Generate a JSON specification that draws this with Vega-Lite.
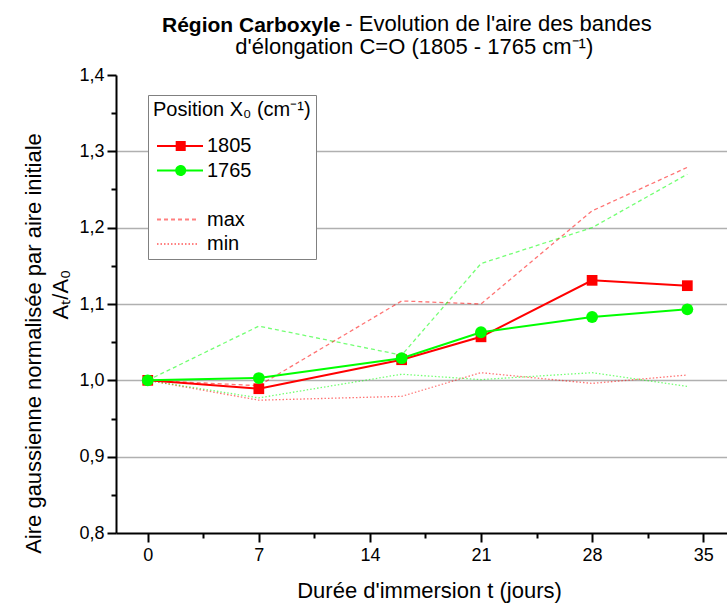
{
  "$schema": "https://vega.github.io/schema/vega-lite/v6.json",
  "width": 611,
  "height": 458,
  "autosize": {"type": "none"},
  "padding": {"left": 116, "top": 75, "right": 0, "bottom": 73},
  "background": "white",
  "config": {
    "view": {"stroke": null},
    "font": "Liberation Sans"
  },
  "title": {
    "text": "Région Carboxyle",
    "subtitle": [
      "\u200b\u00a0\u00a0\u00a0\u00a0\u00a0\u00a0\u00a0\u00a0\u00a0\u00a0\u00a0\u00a0\u00a0\u00a0\u00a0\u00a0\u00a0\u00a0\u00a0\u00a0\u00a0\u00a0\u00a0\u00a0\u00a0\u00a0\u00a0\u00a0\u00a0\u00a0- Evolution de l'aire des bandes",
      "\u200b\u00a0\u00a0\u00a0\u00a0\u00a0\u00a0\u00a0\u00a0\u00a0\u00a0\u00a0\u00a0d'élongation C=O (1805 - 1765 cm⁻¹)"
    ],
    "anchor": "start",
    "frame": "group",
    "dx": 46,
    "font": "Liberation Sans",
    "fontSize": 21,
    "fontWeight": "bold",
    "color": "black",
    "subtitleFont": "Liberation Sans",
    "subtitleFontSize": 22,
    "subtitleFontWeight": "normal",
    "subtitleColor": "black",
    "subtitlePadding": -22,
    "subtitleLineHeight": 23,
    "offset": 6
  },
  "data": {
    "values": [
      {"t": 0, "pos": "1805", "stat": "mean", "v": 1.000},
      {"t": 7, "pos": "1805", "stat": "mean", "v": 0.989},
      {"t": 16, "pos": "1805", "stat": "mean", "v": 1.027},
      {"t": 21, "pos": "1805", "stat": "mean", "v": 1.057},
      {"t": 28, "pos": "1805", "stat": "mean", "v": 1.131},
      {"t": 34, "pos": "1805", "stat": "mean", "v": 1.124},
      {"t": 0, "pos": "1765", "stat": "mean", "v": 1.000},
      {"t": 7, "pos": "1765", "stat": "mean", "v": 1.003},
      {"t": 16, "pos": "1765", "stat": "mean", "v": 1.029},
      {"t": 21, "pos": "1765", "stat": "mean", "v": 1.063},
      {"t": 28, "pos": "1765", "stat": "mean", "v": 1.083},
      {"t": 34, "pos": "1765", "stat": "mean", "v": 1.093},
      {"t": 0, "pos": "1805", "stat": "max", "v": 1.000},
      {"t": 7, "pos": "1805", "stat": "max", "v": 0.993},
      {"t": 16, "pos": "1805", "stat": "max", "v": 1.104},
      {"t": 21, "pos": "1805", "stat": "max", "v": 1.100},
      {"t": 28, "pos": "1805", "stat": "max", "v": 1.222},
      {"t": 34, "pos": "1805", "stat": "max", "v": 1.279},
      {"t": 0, "pos": "1765", "stat": "max", "v": 1.000},
      {"t": 7, "pos": "1765", "stat": "max", "v": 1.071},
      {"t": 16, "pos": "1765", "stat": "max", "v": 1.033},
      {"t": 21, "pos": "1765", "stat": "max", "v": 1.153},
      {"t": 28, "pos": "1765", "stat": "max", "v": 1.200},
      {"t": 34, "pos": "1765", "stat": "max", "v": 1.270},
      {"t": 0, "pos": "1805", "stat": "min", "v": 1.000},
      {"t": 7, "pos": "1805", "stat": "min", "v": 0.974},
      {"t": 16, "pos": "1805", "stat": "min", "v": 0.979},
      {"t": 21, "pos": "1805", "stat": "min", "v": 1.010},
      {"t": 28, "pos": "1805", "stat": "min", "v": 0.996},
      {"t": 34, "pos": "1805", "stat": "min", "v": 1.007},
      {"t": 0, "pos": "1765", "stat": "min", "v": 1.000},
      {"t": 7, "pos": "1765", "stat": "min", "v": 0.977},
      {"t": 16, "pos": "1765", "stat": "min", "v": 1.008},
      {"t": 21, "pos": "1765", "stat": "min", "v": 1.001},
      {"t": 28, "pos": "1765", "stat": "min", "v": 1.010},
      {"t": 34, "pos": "1765", "stat": "min", "v": 0.992}
    ]
  },
  "encoding": {
    "x": {
      "field": "t",
      "type": "quantitative",
      "scale": {"domain": [-2, 36.5], "nice": false, "zero": false},
      "axis": {
        "values": [0, 3.5, 7, 10.5, 14, 17.5, 21, 24.5, 28, 31.5, 35],
        "labelExpr": "datum.value % 7 == 0 ? datum.label : ''",
        "title": "Durée d'immersion t (jours)",
        "grid": false,
        "domainColor": "black",
        "domainWidth": 2,
        "tickColor": "black",
        "tickWidth": 2,
        "tickSize": {"condition": {"test": "datum.value % 7 != 0", "value": 5}, "value": 9},
        "labelFont": "Liberation Sans",
        "labelFontSize": 18,
        "labelColor": "black",
        "labelPadding": 4,
        "labelFlush": false,
        "labelOverlap": false,
        "titleFont": "Liberation Sans",
        "titleFontSize": 22,
        "titleFontWeight": "normal",
        "titleColor": "black",
        "titleX": 313,
        "titleY": 64,
        "titleBaseline": "alphabetic",
        "titleAlign": "center"
      }
    },
    "y": {
      "field": "v",
      "type": "quantitative",
      "scale": {"domain": [0.8, 1.4], "nice": false, "zero": false},
      "axis": {
        "values": [0.8, 0.85, 0.9, 0.95, 1.0, 1.05, 1.1, 1.15, 1.2, 1.25, 1.3, 1.35, 1.4],
        "labelExpr": "abs(datum.value*10 - round(datum.value*10)) > 0.25 ? '' : replace(format(datum.value, '.1f'), '.', ',')",
        "title": [
          "Aire gaussienne normalisée par aire initiale",
          "\u200b\u00a0\u00a0\u00a0\u00a0\u00a0\u00a0\u00a0\u00a0\u00a0\u00a0\u00a0\u00a0\u00a0\u00a0\u00a0\u00a0Aₜ/A₀"
        ],
        "grid": true,
        "gridColor": "#b0b0b0",
        "gridWidth": 1.5,
        "gridOpacity": {"condition": {"test": "abs(datum.value*10 - round(datum.value*10)) > 0.25 || datum.value < 0.85 || datum.value > 1.35", "value": 0}, "value": 1},
        "domainColor": "black",
        "domainWidth": 2,
        "tickColor": "black",
        "tickWidth": 2,
        "tickSize": {"condition": {"test": "abs(datum.value*10 - round(datum.value*10)) > 0.25", "value": 5}, "value": 9},
        "labelFont": "Liberation Sans",
        "labelFontSize": 18,
        "labelColor": "black",
        "labelPadding": 3,
        "labelFlush": false,
        "labelOverlap": false,
        "titleFont": "Liberation Sans",
        "titleFontSize": 22,
        "titleFontWeight": "normal",
        "titleColor": "black",
        "titleAngle": -90,
        "titleX": -76,
        "titleY": 268,
        "titleBaseline": "alphabetic",
        "titleAlign": "center",
        "titleLineHeight": 27
      }
    }
  },
  "layer": [
    {
      "transform": [{"filter": "datum.stat == 'max'"}],
      "mark": {"type": "line", "strokeWidth": 1.3, "strokeDash": [4, 3], "opacity": 0.55},
      "encoding": {
        "color": {"field": "pos", "type": "nominal", "scale": {"domain": ["1805", "1765"], "range": ["#ff0000", "#00ff00"]}, "legend": null}
      }
    },
    {
      "transform": [{"filter": "datum.stat == 'min'"}],
      "mark": {"type": "line", "strokeWidth": 1.3, "strokeDash": [1.5, 2], "opacity": 0.55},
      "encoding": {
        "color": {"field": "pos", "type": "nominal", "legend": null}
      }
    },
    {
      "transform": [{"filter": "datum.stat == 'mean'"}],
      "mark": {"type": "line", "strokeWidth": 2},
      "encoding": {
        "color": {"field": "pos", "type": "nominal", "legend": null}
      }
    },
    {
      "transform": [{"filter": "datum.stat == 'mean' && datum.pos == '1805'"}],
      "mark": {"type": "point", "shape": "square", "filled": true, "size": 115, "opacity": 1},
      "encoding": {
        "color": {"field": "pos", "type": "nominal", "legend": null}
      }
    },
    {
      "transform": [{"filter": "datum.stat == 'mean' && datum.pos == '1765'"}],
      "mark": {"type": "point", "shape": "circle", "filled": true, "size": 140, "opacity": 1},
      "encoding": {
        "color": {"field": "pos", "type": "nominal", "legend": null}
      }
    },
    {
      "transform": [{"filter": "datum.t < -100"}],
      "mark": {"type": "point", "filled": true, "opacity": 1},
      "encoding": {
        "fill": {
          "field": "entry",
          "type": "nominal",
          "scale": {"domain": ["1805", "1765", " ", "max", "min"], "range": ["#ff0000", "#00ff00", "transparent", "transparent", "transparent"]},
          "legend": {
            "orient": "none",
            "legendX": 32,
            "legendY": 20,
            "title": "Position X₀ (cm⁻¹)",
            "titleFont": "Liberation Sans",
            "titleFontSize": 20,
            "titleFontWeight": "normal",
            "titleColor": "black",
            "titlePadding": 16,
            "labelFont": "Liberation Sans",
            "labelFontSize": 20,
            "labelColor": "black",
            "labelOffset": 34,
            "symbolSize": 144,
            "rowPadding": 4.5,
            "padding": 5,
            "strokeColor": "#808080",
            "fillColor": "white"
          }
        },
        "stroke": {
          "field": "entry",
          "type": "nominal",
          "scale": {"domain": ["1805", "1765", " ", "max", "min"], "range": ["#ff0000", "#00ff00", "transparent", "#ff8080", "#ff8080"]}
        },
        "shape": {
          "field": "entry",
          "type": "nominal",
          "scale": {"domain": ["1805", "1765", " ", "max", "min"], "range": ["M-1,0H6.67M2.28,-0.67H3.62V0.67H2.28Z", "M-1,0H6.67M3.7,0A0.75,0.75,0,1,1,2.2,0A0.75,0.75,0,1,1,3.7,0Z", "M0,0", "M-1,0H6", "M-1,0H6"]}
        },
        "strokeDash": {
          "field": "entry",
          "type": "nominal",
          "scale": {"domain": ["1805", "1765", " ", "max", "min"], "range": [[1, 0], [1, 0], [1, 0], [4, 3], [1.5, 2]]}
        },
        "strokeWidth": {
          "field": "entry",
          "type": "ordinal",
          "scale": {"domain": ["1805", "1765", " ", "max", "min"], "range": [2, 2, 0, 1.3, 1.3]}
        }
      }
    }
  ]
}
